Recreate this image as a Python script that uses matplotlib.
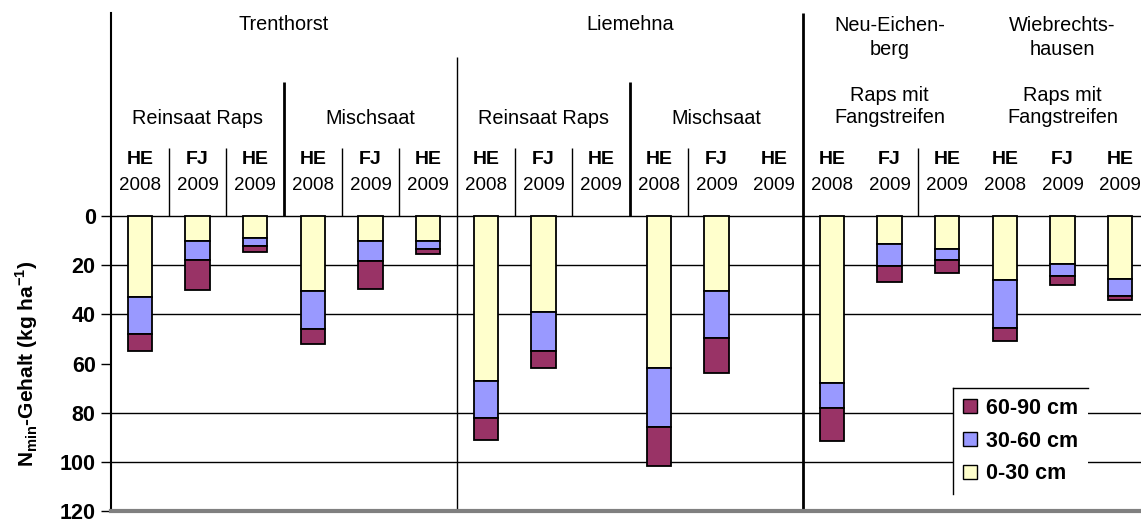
import matplotlib
matplotlib.use("Agg")
import matplotlib.pyplot as plt
from matplotlib.patches import Patch
from matplotlib.lines import Line2D

# N-min values (kg/ha) per soil layer, one entry per column
depth_0_30 = [33, 10, 9, 30.5, 10, 10, 67, 39, 0, 62, 30.5, 0, 68, 11.5, 13.5, 26, 19.5, 25.5]
depth_30_60 = [15, 8, 3, 15.5, 8.5, 3.5, 15, 16, 0, 24, 19, 0, 10, 9, 4.5, 19.5, 5, 7]
depth_60_90 = [7, 12, 2.5, 6, 11, 2, 9, 7, 0, 15.5, 14.5, 0, 13.5, 6.5, 5, 5.5, 3.5, 1.5]

dates = ["HE", "FJ", "HE"] * 6
years = ["2008", "2009", "2009"] * 6
treatments = ["Reinsaat Raps", "Mischsaat", "Reinsaat Raps", "Mischsaat",
              "Raps mit\nFangstreifen", "Raps mit\nFangstreifen"]
locations = ["Trenthorst", "Liemehna", "Neu-Eichen-\nberg", "Wiebrechts-\nhausen"]
loc_spans = [(0, 6), (6, 12), (12, 15), (15, 18)]

c_red = "#993366"
c_blue = "#9999FF"
c_yellow = "#FFFFCC"

plt.rcParams['font.family'] = ['Liberation Sans', 'DejaVu Sans']

W, H = 1141, 519
fig = plt.figure(figsize=(W / 100, H / 100), dpi=100)
ax = fig.add_axes([111 / W, 8 / H, (W - 111) / W, 511 / H])

px = 295 / 120  # pixels per unit
col_px = 57.67
xmax = (W - 111) / col_px
ax.set_xlim(0, xmax)
ax.set_ylim(120, -216 / px)


def ypx(p):
    # pixel row from top -> data value
    return -(216 - p) / px


def lws(vals):
    return [1.3 if v > 0 else 0 for v in vals]


x = [i + 0.5 for i in range(len(depth_0_30))]
b1 = depth_0_30
b2 = [a + b for a, b in zip(depth_0_30, depth_30_60)]
kw = dict(width=0.42, edgecolor="black", zorder=3)
ax.bar(x, depth_0_30, color=c_yellow, linewidth=lws(depth_0_30), **kw)
ax.bar(x, depth_30_60, bottom=b1, color=c_blue, linewidth=lws(depth_30_60), **kw)
ax.bar(x, depth_60_90, bottom=b2, color=c_red, linewidth=lws(depth_60_90), **kw)

# gridlines (no line at 60 in original)
for g in [0, 20, 40, 80, 100]:
    ax.axhline(g, color="black", lw=1, zorder=1)

# spines
for s in ["top", "right"]:
    ax.spines[s].set_visible(False)
ax.spines["left"].set_bounds(120, ypx(13))
ax.spines["left"].set_linewidth(1.5)
ax.spines["bottom"].set_color("#808080")
ax.spines["bottom"].set_linewidth(3)
ax.set_xticks([])
ax.set_yticks([0, 20, 40, 60, 80, 100, 120])
ax.tick_params(axis="y", length=7, width=1, labelsize=15.5, pad=4)
for t in ax.get_yticklabels():
    t.set_fontweight("bold")

ax.text(-84 / col_px, 60, "N$_{\\mathregular{min}}$-Gehalt (kg ha$^{\\mathregular{-1}}$)",
        rotation=90, ha="center", va="center", fontsize=15, fontweight="bold")

# header separators
ax.vlines([6], ypx(57), 120, color="black", lw=1)
ax.vlines([12], ypx(13), 120, color="black", lw=2)
ax.vlines([3, 9], ypx(82), 0, color="black", lw=2)
ax.vlines([1, 2, 4, 5, 7, 8, 10, 14], ypx(148), 0, color="black", lw=1)

# header texts
for i in range(len(dates)):
    ax.text(i + 0.5, ypx(160), dates[i], ha="center", va="center",
            fontsize=14, fontweight="bold")
    ax.text(i + 0.5, ypx(185), years[i], ha="center", va="center", fontsize=13.5)

for k, t in enumerate(treatments):
    yc = ypx(118) if "\n" not in t else ypx(106.5)
    ax.text(3 * k + 1.5, yc, t, ha="center", va="center", fontsize=14.3,
            linespacing=1.2)

for name, (a, b) in zip(locations, loc_spans):
    yc = ypx(25) if "\n" not in name else ypx(37.5)
    ax.text((a + b) / 2, yc, name, ha="center", va="center", fontsize=14.3,
            linespacing=1.3)

handles = [Patch(facecolor=c_red, edgecolor="black", label="60-90 cm"),
           Patch(facecolor=c_blue, edgecolor="black", label="30-60 cm"),
           Patch(facecolor=c_yellow, edgecolor="black", label="0-30 cm")]
leg = ax.legend(handles=handles, loc="upper left",
                bbox_to_anchor=((953 - 111) / 1030, (511 - 388) / 511),
                borderaxespad=0, fancybox=False, framealpha=1,
                prop={"weight": "bold", "size": 15.5},
                handlelength=0.65, handleheight=0.65, handletextpad=0.45,
                labelspacing=0.55, borderpad=0.45)
leg.get_frame().set_edgecolor("none")
leg.set_zorder(5)

fig.canvas.draw()
bb = leg.get_window_extent().transformed(fig.transFigure.inverted())
fig.add_artist(Line2D([bb.x0, bb.x0], [bb.y0, bb.y1], color="black", lw=1))
fig.add_artist(Line2D([bb.x0, bb.x1], [bb.y1, bb.y1], color="black", lw=1))

fig.savefig("out.png", dpi=100)
